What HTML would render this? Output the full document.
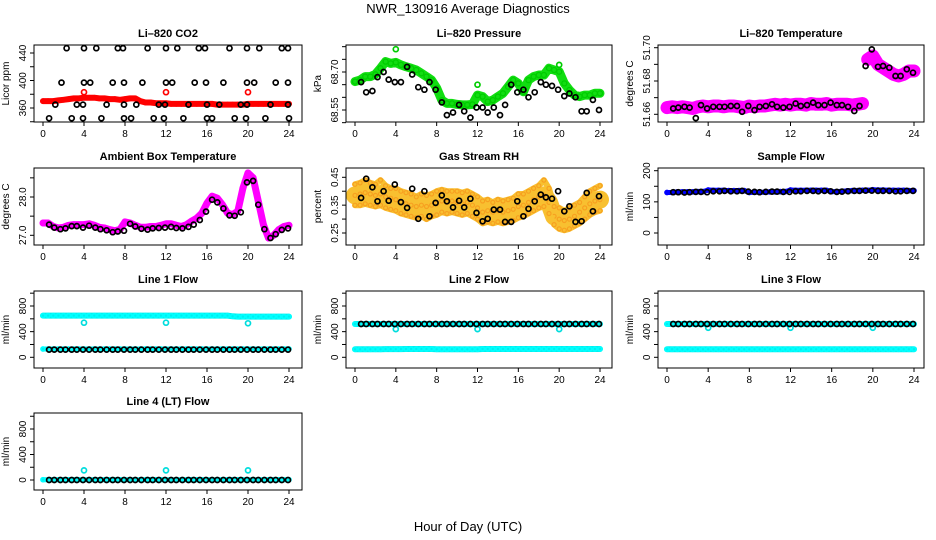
<!DOCTYPE html>
<html><head><meta charset="utf-8">
<style>
html,body{margin:0;padding:0;background:#fff;}
svg{display:block;font-family:"Liberation Sans",sans-serif;}
</style></head>
<body>
<svg id="chart" width="936" height="540" viewBox="0 0 936 540">
<rect width="936" height="540" fill="#fff"/>
<text x="468" y="13" text-anchor="middle" font-size="13">NWR_130916  Average Diagnostics</text>
<text x="468" y="531" text-anchor="middle" font-size="13">Hour of Day (UTC)</text>
</svg>
<script>
const xTicks=[0,4,8,12,16,20,24];
const tHalf=[0,0.5,1,1.5,2,2.5,3,3.5,4,4.5,5,5.5,6,6.5,7,7.5,8,8.5,9,9.5,10,10.5,11,11.5,12,12.5,13,13.5,14,14.5,15,15.5,16,16.5,17,17.5,18,18.5,19,19.5,20,20.5,21,21.5,22,22.5,23,23.5,24];
const tBlack=[0.6,1.1,1.7,2.2,2.8,3.3,3.9,4.5,5.1,5.6,6.2,6.8,7.3,7.9,8.5,9.0,9.6,10.2,10.7,11.3,11.9,12.5,13.0,13.6,14.2,14.7,15.3,15.9,16.5,17.0,17.6,18.2,18.7,19.3,19.9,20.5,21.0,21.6,22.2,22.7,23.3,23.9];
const tOut=[4,12,20];

const co2Red=[370,370,370,371,372,373,374,374,375,375,375,374,374,373,373,372,373,374,374,370,368,368,367,367,367,366,366,366,366,366,366,366,366,366,365,365,365,365,365,365,366,366,366,366,366,366,366,366,366];
const co2RedOut=[383,383,383];
const co2BlackT=[2.3,4.0,5.2,7.3,7.8,10.2,12.0,13.1,15.2,15.8,18.2,19.9,21.1,23.3,23.9,1.8,4.0,4.6,6.8,7.9,9.7,12.0,12.6,14.8,15.9,17.6,19.9,20.6,22.7,23.9,1.2,3.3,3.9,6.2,7.9,9.1,11.3,11.9,14.2,16.0,17.2,19.3,19.9,22.2,23.9,0.6,2.8,3.9,5.7,7.9,8.6,10.8,11.8,13.7,16.0,16.5,18.7,19.8,21.7,24.0];
const co2BlackV=[447,447,447,447,447,447,447,447,447,447,447,447,447,447,447,397,397,397,397,397,397,397,397,397,397,397,397,397,397,397,365,365,365,365,365,365,365,365,365,365,365,365,365,365,365,345,345,345,345,345,345,345,345,345,345,345,345,345,345,345];

const presGreen=[68.662,68.668,68.682,68.682,68.691,68.715,68.741,68.734,68.738,68.728,68.721,68.715,68.708,68.695,68.682,68.668,68.636,68.589,68.576,68.576,68.572,68.570,68.570,68.572,68.609,68.603,68.583,68.589,68.603,68.616,68.642,68.668,68.655,68.622,68.668,68.682,68.688,68.688,68.715,68.708,68.701,68.655,68.629,68.609,68.603,68.609,68.609,68.616,68.616];
const presGreenOut=[68.79,68.65,68.728];
const presBlack=[68.66,68.62,68.625,68.68,68.70,68.67,68.66,68.66,68.72,68.69,68.64,68.63,68.66,68.63,68.58,68.53,68.54,68.57,68.545,68.52,68.56,68.56,68.54,68.56,68.53,68.57,68.65,68.62,68.63,68.60,68.62,68.66,68.65,68.645,68.63,68.605,68.615,68.60,68.545,68.545,68.59,68.55];

const tempMag=[51.664,51.6645,51.664,51.6645,51.664,51.6635,51.6645,51.665,51.6645,51.665,51.665,51.6645,51.665,51.665,51.6645,51.664,51.665,51.6645,51.665,51.665,51.6655,51.666,51.6655,51.666,51.6655,51.666,51.666,51.6655,51.6665,51.666,51.666,51.6665,51.6655,51.666,51.666,51.666,51.6655,51.666,51.6665,51.693,51.695,51.690,51.688,51.686,51.684,51.683,51.684,51.686,51.686];
const tempBlack=[51.6635,51.664,51.6645,51.664,51.6577,51.6655,51.6635,51.6645,51.6645,51.6645,51.665,51.665,51.6615,51.665,51.6625,51.6645,51.665,51.666,51.6645,51.664,51.6645,51.6665,51.665,51.6655,51.667,51.6655,51.6655,51.667,51.6655,51.6655,51.6645,51.662,51.665,51.689,51.699,51.6885,51.689,51.688,51.683,51.683,51.687,51.685];

const ambMag=[27.32,27.32,27.23,27.19,27.21,27.26,27.28,27.28,27.28,27.30,27.26,27.21,27.19,27.15,27.12,27.15,27.35,27.32,27.26,27.21,27.21,27.23,27.23,27.26,27.30,27.30,27.26,27.23,27.28,27.37,27.45,27.58,27.84,28.02,27.97,27.80,27.58,27.54,27.63,28.23,28.63,28.50,27.89,27.28,26.93,27.00,27.15,27.23,27.26];
const ambBlack=[27.28,27.2,27.16,27.18,27.24,27.24,27.2,27.25,27.2,27.16,27.13,27.08,27.1,27.12,27.3,27.23,27.17,27.15,27.18,27.19,27.2,27.22,27.19,27.18,27.22,27.28,27.4,27.62,27.93,27.86,27.7,27.52,27.51,27.6,28.38,28.42,27.8,27.16,26.93,27.03,27.14,27.18];

const rhA=[0.385,0.39,0.395,0.39,0.385,0.39,0.38,0.375,0.37,0.36,0.355,0.35,0.345,0.35,0.345,0.35,0.355,0.365,0.36,0.365,0.36,0.355,0.36,0.35,0.34,0.325,0.33,0.325,0.33,0.325,0.33,0.335,0.345,0.35,0.36,0.37,0.38,0.385,0.36,0.31,0.30,0.295,0.30,0.31,0.325,0.34,0.355,0.365,0.37];
const rhB=[0.425,0.43,0.44,0.43,0.425,0.44,0.42,0.41,0.41,0.40,0.395,0.39,0.38,0.39,0.385,0.39,0.40,0.405,0.40,0.40,0.40,0.395,0.40,0.39,0.38,0.365,0.37,0.36,0.37,0.365,0.37,0.375,0.39,0.39,0.40,0.41,0.42,0.44,0.41,0.345,0.34,0.33,0.34,0.35,0.36,0.38,0.40,0.41,0.42];
const rhC=[0.35,0.35,0.355,0.35,0.345,0.35,0.34,0.335,0.33,0.32,0.315,0.31,0.305,0.31,0.30,0.31,0.315,0.325,0.32,0.325,0.32,0.315,0.32,0.31,0.30,0.285,0.29,0.285,0.29,0.285,0.29,0.295,0.305,0.31,0.32,0.33,0.34,0.345,0.32,0.28,0.265,0.26,0.265,0.275,0.285,0.30,0.315,0.325,0.33];
const rhBlack=[0.376,0.445,0.414,0.364,0.40,0.366,0.424,0.361,0.34,0.409,0.301,0.40,0.31,0.358,0.385,0.364,0.342,0.366,0.342,0.373,0.322,0.292,0.301,0.334,0.334,0.29,0.29,0.364,0.31,0.337,0.364,0.388,0.378,0.373,0.40,0.328,0.346,0.29,0.292,0.394,0.328,0.382];

const sampleBlue=[130,130,132,132,132,132,133,133,138,137,137,137,136,136,136,136,130,131,131,131,132,132,133,133,138,137,137,137,137,137,137,137,133,133,134,135,136,136,137,137,139,138,138,137,137,137,137,136,136];
const sampleBlack=[131,131,130,131,132,132,131,134,134,135,134,134,135,133,132,131,132,133,133,132,132,134,134,135,135,134,135,134,132,133,134,135,135,136,136,135,135,135,134,134,135,135];

const line1Upper=[650,650,650,650,650,650,650,650,650,650,650,650,650,650,650,650,650,650,650,650,650,650,650,650,650,650,650,650,650,650,650,650,650,650,650,650,650,640,635,635,635,635,635,635,635,635,635,635,635];
const line1Lower=[130,130,130,130,130,130,130,130,130,130,130,130,130,130,130,130,130,130,130,130,130,130,130,130,130,130,130,130,130,130,130,130,130,130,130,130,130,130,130,130,130,130,130,130,130,130,130,130,130];
const line1Black=[120,120,120,120,120,120,120,120,120,120,120,120,120,120,120,120,120,120,120,120,120,120,120,120,120,120,120,120,120,120,120,120,120,120,120,120,120,120,120,120,120,120];
const line1Out=[540,540,530];

const line2Upper=[520,520,520,520,520,520,520,520,520,520,520,520,520,520,520,520,520,520,520,520,520,520,520,520,520,520,520,520,520,520,520,520,520,520,520,520,520,520,520,520,520,520,520,520,520,520,520,520,520];
const line2Lower=[125,125,125,125,125,125,128,128,128,128,130,130,130,130,130,130,125,125,125,125,125,125,125,125,125,130,130,130,130,130,130,130,130,130,130,130,130,130,130,130,130,130,130,130,130,130,130,130,130];
const line2Black=[520,520,520,520,520,520,520,520,520,520,520,520,520,520,520,520,520,520,520,520,520,520,520,520,520,520,520,520,520,520,520,520,520,520,520,520,520,520,520,520,520,520];
const line2Out=[440,440,440];

const line3Upper=[520,520,520,520,520,520,520,520,520,520,520,520,520,520,520,520,520,520,520,520,520,520,520,520,520,520,520,520,520,520,520,520,520,520,520,520,520,520,520,520,520,520,520,520,520,520,520,520,520];
const line3Lower=[125,125,125,125,125,125,125,125,125,125,125,125,125,125,125,125,125,125,125,125,125,125,125,125,125,125,125,125,125,125,125,125,125,125,125,125,125,125,125,125,125,125,125,125,125,125,125,125,125];
const line3Black=[520,520,520,520,520,520,520,520,520,520,520,520,520,520,520,520,520,520,520,520,520,520,520,520,520,520,520,520,520,520,520,520,520,520,520,520,520,520,520,520,520,520];
const line3Out=[460,460,460];

const line4Cyan=[5,5,5,5,5,5,5,5,5,5,5,5,5,5,5,5,5,5,5,5,5,5,5,5,5,5,5,5,5,5,5,5,5,5,5,5,5,5,5,5,5,5,5,5,5,5,5,5,5];
const line4Black=[0,0,0,0,0,0,0,0,0,0,0,0,0,0,0,0,0,0,0,0,0,0,0,0,0,0,0,0,0,0,0,0,0,0,0,0,0,0,0,0,0,0];
const line4Out=[150,150,150];

const NS="http://www.w3.org/2000/svg";
const svg=document.getElementById('chart');
function mk(tag,attrs,parent){const e=document.createElementNS(NS,tag);for(const k in attrs)e.setAttribute(k,attrs[k]);(parent||svg).appendChild(e);return e;}

const cols=[{x0:34,x1:302,h0:43,h24:289},{x0:346,x1:612,h0:355,h24:600},{x0:658,x1:924,h0:667,h24:914}];
const rowTops=[45,168,291,413];
const boxH=77;

function panel(p){
  const c=cols[p.col], top=rowTops[p.row], bot=top+boxH;
  const g=mk('g',{});
  
  
  const xs=h=>c.h0+(c.h24-c.h0)*h/24;
  const ys=v=>p.ya[1]+(v-p.ya[0])*(p.yb[1]-p.ya[1])/(p.yb[0]-p.ya[0]);
  const t=mk('text',{x:(c.x0+c.x1)/2,y:top-8,'text-anchor':'middle','font-size':'11','font-weight':'bold'},g);
  t.textContent=p.title;
  
  
  const yt=mk('text',{x:0,y:0,'text-anchor':'middle','font-size':'10',transform:`translate(${c.x0-25},${(top+bot)/2}) rotate(-90)`},g);
  yt.textContent=p.ylab;
  
  
  p.series.forEach(s=>{
    const sg=mk('g',{},g);
    
    
    if(s.band){
      let seg=[],prevY=null;
      const flush=()=>{if(seg.length>1)mk('polyline',{points:seg.join(' '),fill:'none',stroke:s.band,'stroke-width':s.bw,'stroke-linejoin':'round','stroke-linecap':'round'},sg);seg=[];};
      s.t.forEach((h,i)=>{
        const x=xs(h),y=ys(s.v[i]);
        if(s.brk&&prevY!==null&&Math.abs(y-prevY)>s.brk)flush();
        seg.push(x.toFixed(1)+','+y.toFixed(1));prevY=y;
      });
      flush();
    }
    s.t.forEach((h,i)=>{
      const cc=mk('circle',{cx:xs(h).toFixed(1),cy:ys(s.v[i]).toFixed(1),r:s.r||2.5,fill:s.fill||'none',stroke:s.color,'stroke-width':s.sw||1.7},sg);
      
      
    });
  });
  const b=mk('rect',{x:c.x0,y:top,width:c.x1-c.x0,height:boxH,fill:'none',stroke:'#000','stroke-width':1},g);
  
  
  xTicks.forEach(h=>{
    const x=xs(h);
    mk('line',{x1:x,x2:x,y1:bot,y2:bot+4,stroke:'#000'},g);
    const tl=mk('text',{x:x,y:bot+15,'text-anchor':'middle','font-size':'10'},g);
    tl.textContent=h;
    
    
  });
  p.yticks.forEach(v=>{
    const y=ys(v);
    if(y<top-3||y>bot+3)return;
    mk('line',{x1:c.x0-4,x2:c.x0,y1:y,y2:y,stroke:'#000'},g);
  });
  p.ylabels.forEach((lab,i)=>{
    const y=ys(p.ylabelVals[i]);
    const tl=mk('text',{x:0,y:0,'text-anchor':'middle','font-size':'10',transform:`translate(${c.x0-8},${y}) rotate(-90)`},g);
    tl.textContent=lab;
    
    
  });
}

const flowTicks=[0,200,400,600,800,1000];
panel({name:'panel-co2',col:0,row:0,title:'Li–820 CO2',ylab:'Licor ppm',ya:[360,108],yb:[440,53],yticks:[340,360,380,400,420,440],ylabels:['360','400','440'],ylabelVals:[360,400,440],
 series:[{name:'co2-red-series',t:tHalf,v:co2Red,color:'#ff0000',band:'#ff0000',bw:6,r:2},
         {name:'co2-red-outliers',t:tOut,v:co2RedOut,color:'#ff0000'},
         {name:'co2-black-series',t:co2BlackT,v:co2BlackV,color:'#000'}]});
panel({name:'panel-pressure',col:1,row:0,title:'Li–820 Pressure',ylab:'kPa',ya:[68.55,110],yb:[68.70,72],yticks:[68.50,68.55,68.60,68.65,68.70,68.75,68.80],ylabels:['68.55','68.70'],ylabelVals:[68.55,68.70],
 series:[{name:'pressure-green-series',t:tHalf,v:presGreen,color:'#00cc00',band:'#11dd11',bw:9,r:2.5,sw:1.3},
         {name:'pressure-green-outliers',t:tOut,v:presGreenOut,color:'#00cc00'},
         {name:'pressure-black-series',t:tBlack,v:presBlack,color:'#000'}]});
panel({name:'panel-li820-temp',col:2,row:0,title:'Li–820 Temperature',ylab:'degrees C',ya:[51.66,114.3],yb:[51.70,47.7],yticks:[51.66,51.67,51.68,51.69,51.70],ylabels:['51.66','51.68','51.70'],ylabelVals:[51.66,51.68,51.70],
 series:[{name:'temp-magenta-series',t:tHalf,v:tempMag,color:'#ff00ff',band:'#ff00ff',bw:13,r:3,brk:20},
         {name:'temp-black-series',t:tBlack,v:tempBlack,color:'#000'}]});
panel({name:'panel-ambient-temp',col:0,row:1,title:'Ambient Box Temperature',ylab:'degrees C',ya:[27.0,235.3],yb:[28.0,197],yticks:[27.0,27.5,28.0,28.5],ylabels:['27.0','28.0'],ylabelVals:[27.0,28.0],
 series:[{name:'ambient-magenta-series',t:tHalf,v:ambMag,color:'#ff00ff',band:'#ff00ff',bw:7,r:2.5},
         {name:'ambient-black-series',t:tBlack,v:ambBlack,color:'#000'}]});
panel({name:'panel-rh',col:1,row:1,title:'Gas Stream RH',ylab:'percent',ya:[0.25,233],yb:[0.45,177.3],yticks:[0.25,0.30,0.35,0.40,0.45],ylabels:['0.25','0.35','0.45'],ylabelVals:[0.25,0.35,0.45],
 series:[{name:'rh-series-a',t:tHalf,v:rhA,color:'#f7a020',fill:'none',band:'#f8c030',bw:18,r:2,sw:1.2},
         {name:'rh-series-b',t:tHalf,v:rhB,color:'#f7a020',fill:'none',band:'#f8c030',bw:6,r:2,sw:1.2},
         {name:'rh-series-c',t:tHalf,v:rhC,color:'#f7a020',fill:'none',band:'#f8c030',bw:6,r:2,sw:1.2},
         {name:'rh-black-series',t:tBlack,v:rhBlack,color:'#000'}]});
panel({name:'panel-sample-flow',col:2,row:1,title:'Sample Flow',ylab:'ml/min',ya:[0,233],yb:[200,170.7],yticks:[0,50,100,150,200],ylabels:['0','100','200'],ylabelVals:[0,100,200],
 series:[{name:'sample-blue-series',t:tHalf,v:sampleBlue,color:'#0000ff',band:'#0000ff',bw:5,r:2},
         {name:'sample-black-series',t:tBlack,v:sampleBlack,color:'#000'}]});
const f3=[[0,357.3],[800,306]];
panel({name:'panel-line1-flow',col:0,row:2,title:'Line 1 Flow',ylab:'ml/min',ya:f3[0],yb:f3[1],yticks:flowTicks,ylabels:['0','400','800'],ylabelVals:[0,400,800],
 series:[{name:'line1-cyan-upper',t:tHalf,v:line1Upper,color:'#00ffff',band:'#00eeee',bw:6,r:2},
         {name:'line1-cyan-lower',t:tHalf,v:line1Lower,color:'#00ffff',band:'#00eeee',bw:5,r:2},
         {name:'line1-cyan-outliers',t:tOut,v:line1Out,color:'#00dddd'},
         {name:'line1-black-series',t:tBlack,v:line1Black,color:'#000'}]});
panel({name:'panel-line2-flow',col:1,row:2,title:'Line 2 Flow',ylab:'ml/min',ya:f3[0],yb:f3[1],yticks:flowTicks,ylabels:['0','400','800'],ylabelVals:[0,400,800],
 series:[{name:'line2-cyan-upper',t:tHalf,v:line2Upper,color:'#00ffff',band:'#00eeee',bw:6,r:2},
         {name:'line2-cyan-lower',t:tHalf,v:line2Lower,color:'#00ffff',band:'#00eeee',bw:6,r:2},
         {name:'line2-cyan-outliers',t:tOut,v:line2Out,color:'#00dddd'},
         {name:'line2-black-series',t:tBlack,v:line2Black,color:'#000'}]});
panel({name:'panel-line3-flow',col:2,row:2,title:'Line 3 Flow',ylab:'ml/min',ya:f3[0],yb:f3[1],yticks:flowTicks,ylabels:['0','400','800'],ylabelVals:[0,400,800],
 series:[{name:'line3-cyan-upper',t:tHalf,v:line3Upper,color:'#00ffff',band:'#00eeee',bw:6,r:2},
         {name:'line3-cyan-lower',t:tHalf,v:line3Lower,color:'#00ffff',band:'#00eeee',bw:6,r:2},
         {name:'line3-cyan-outliers',t:tOut,v:line3Out,color:'#00dddd'},
         {name:'line3-black-series',t:tBlack,v:line3Black,color:'#000'}]});
panel({name:'panel-line4-flow',col:0,row:3,title:'Line 4 (LT) Flow',ylab:'ml/min',ya:[0,480],yb:[800,429],yticks:flowTicks,ylabels:['0','400','800'],ylabelVals:[0,400,800],
 series:[{name:'line4-cyan-series',t:tHalf,v:line4Cyan,color:'#00ffff',band:'#00eeee',bw:5,r:2},
         {name:'line4-cyan-outliers',t:tOut,v:line4Out,color:'#00dddd'},
         {name:'line4-black-series',t:tBlack,v:line4Black,color:'#000'}]});
</script>
</body></html>
